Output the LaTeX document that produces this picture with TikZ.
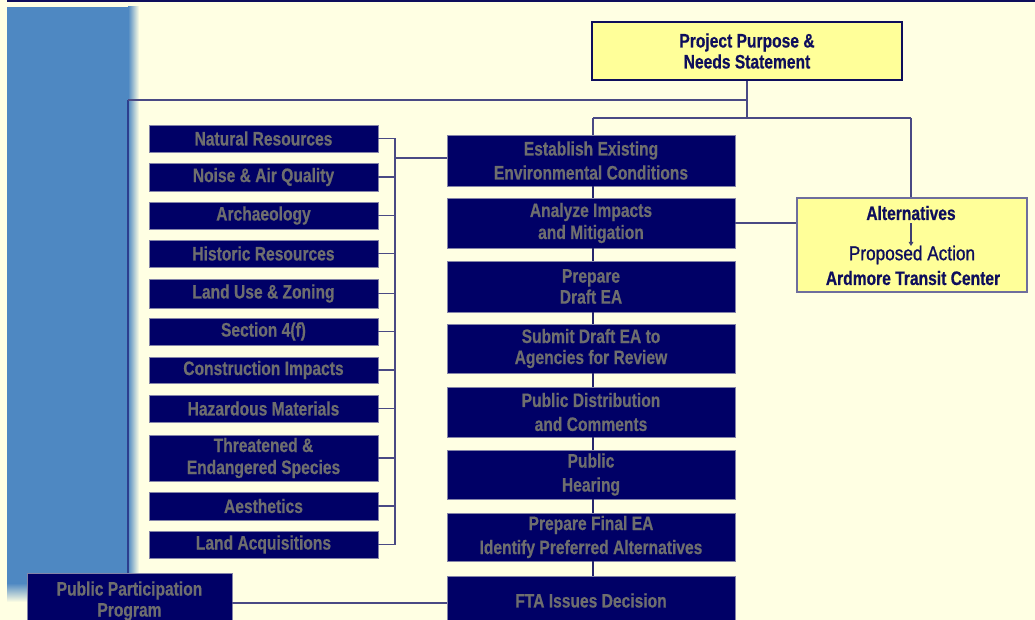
\documentclass[tikz,border=0pt]{standalone}
\usepackage{fontspec}
\setmainfont{Liberation Sans}[FakeStretch=0.80, BoldFeatures={FakeBold=0.5}]
\newfontfamily\propfont{Liberation Sans}[FakeStretch=0.86, FakeBold=1]
\usetikzlibrary{arrows.meta}
\definecolor{bg}{HTML}{FFFFE3}
\definecolor{barblue}{HTML}{4E88C2}
\definecolor{barline}{HTML}{2C3E8E}
\definecolor{navybox}{HTML}{000066}
\definecolor{boxedge}{HTML}{8484A8}
\definecolor{graytxt}{HTML}{6E6E6E}
\definecolor{conn}{HTML}{4A4A84}
\definecolor{ylw}{HTML}{FFFF99}
\definecolor{navytxt}{HTML}{0E0E5C}
\tikzset{
  darkbox/.style={rectangle, fill=navybox, draw=boxedge, line width=0.5pt, text=graytxt,
    font=\bfseries\fontsize{19.5}{21}\selectfont, align=center, inner sep=0pt},
  leftbox/.style={darkbox, minimum width=229pt, minimum height=27pt},
  midbox/.style={darkbox, minimum width=288pt, minimum height=50pt},
  wide/.style={font=\bfseries\fontsize{19.5}{24}\selectfont},
  ybox/.style={rectangle, fill=ylw, draw=navytxt, line width=1.4pt, inner sep=0pt,
    text=navytxt, font=\bfseries\fontsize{19.5}{21}\selectfont, align=center},
  ytext/.style={text=navytxt, inner sep=0pt, font=\bfseries\fontsize{19.5}{21}\selectfont},
  conline/.style={draw=conn, line width=1.6pt},
}
\begin{document}
\begin{tikzpicture}[x=1pt,y=-1pt]
\useasboundingbox (0,0) rectangle (1035,620);
\clip (0,0) rectangle (1035,620);
\fill[bg] (0,0) rectangle (1035,620);
% top rule
\draw[navytxt, line width=2.2pt] (7,1.2) -- (1035,1.2);
% blue side bar
\fill[barblue] (7,7) rectangle (128,583);
\shade[left color=barblue, right color=bg] (128,7) rectangle (139,583);
\shade[top color=barblue, bottom color=bg] (7,583) rectangle (128,602);
\shade[inner color=barblue!50!bg, outer color=bg] (128,583) rectangle (139,602);
\draw[barline, line width=2.4pt] (128,100) -- (128,573);

% top boxes
\node[ybox, minimum width=310pt, minimum height=58pt] (pp) at (747,51)
  {Project Purpose \&\\Needs Statement};
\node[ybox, draw=conn!80, minimum width=230pt, minimum height=94pt] (alt) at (912,245) {};
\node[ytext] (altt) at (911,213) {Alternatives};
\node[ytext, font=\propfont\fontsize{20}{22}\selectfont] (prop) at (912,255) {Proposed Action};
\node[ytext] (ard) at (913,278) {Ardmore Transit Center};

% middle column
\node[midbox, wide, minimum height=51pt] (est) at (591,160.5) {Establish Existing\\Environmental Conditions};
\node[midbox, font=\bfseries\fontsize{19.5}{22}\selectfont] (ana) at (591,223) {Analyze Impacts\\and Mitigation};
\node[midbox, minimum height=51pt] (draft) at (591,286.5) {Prepare\\Draft EA};
\node[midbox, minimum height=49pt] (sub) at (591,348.5) {Submit Draft EA to\\Agencies for Review};
\node[midbox, wide] (dist) at (591,412) {Public Distribution\\and Comments};
\node[midbox, wide, minimum height=49pt] (hear) at (591,474.5) {Public\\Hearing};
\node[midbox, wide, minimum height=48pt] (final) at (591,537) {Prepare Final EA\\Identify Preferred Alternatives};
\node[midbox, minimum height=49pt] (fta) at (591,600.5) {FTA Issues Decision};

% left column
\node[leftbox] (nat) at (263.5,138.5) {Natural Resources};
\node[leftbox, minimum height=28pt] (noise) at (263.5,177) {Noise \& Air Quality};
\node[leftbox] (arch) at (263.5,215.5) {Archaeology};
\node[leftbox] (hist) at (263.5,253.5) {Historic Resources};
\node[leftbox, minimum height=29pt] (land) at (263.5,293.5) {Land Use \& Zoning};
\node[leftbox] (sec) at (263.5,331.5) {Section 4(f)};
\node[leftbox, minimum height=26pt] (cons) at (263.5,370) {Construction Impacts};
\node[leftbox] (haz) at (263.5,408.5) {Hazardous Materials};
\node[leftbox, minimum height=46pt, font=\bfseries\fontsize{19.5}{22}\selectfont] (thr) at (263.5,458) {Threatened \&\\Endangered Species};
\node[leftbox, minimum height=28pt] (aes) at (263.5,506) {Aesthetics};
\node[leftbox] (acq) at (263.5,544.5) {Land Acquisitions};

% public participation
\node[darkbox, minimum width=205pt, minimum height=56pt] (ppp) at (129.5,601) {Public Participation\\Program};

% connectors: top
\coordinate (j1) at (747,100);
\coordinate (j2) at (747,118);
\coordinate (lft) at (128,100);
\coordinate (cl) at (593,118);
\coordinate (cr) at (911,118);
\draw[conline] (pp.south) -- (j2);
\draw[conline] (j1) -- (lft);
\draw[conline] (cl) -- (cr);
\draw[conline] (cl) -- (cl |- est.north);
\draw[conline] (cr) -- (cr |- alt.north);
\draw[conline] (ana.east) -- (ana.east -| alt.west);
\draw[draw=conn!85!black, line width=1.6pt, -{Triangle[length=4pt,width=4.5pt]}] (altt.south -| 911,0) ++(0,3) -- (911,246);

% middle chain
\foreach \a/\b in {est/ana, ana/draft, draft/sub, sub/dist, dist/hear, hear/final, final/fta}{
  \draw[conline, draw=navytxt!90] ([xshift=2pt]\a.south) -- ([xshift=2pt]\b.north);
}

% left bracket
\coordinate (bt) at (395,138.5);
\coordinate (bb) at (395,544.5);
\coordinate (br) at (395,158);
\draw[conline] (bt) -- (bb);
\foreach \n in {nat, noise, arch, hist, land, sec, cons, haz, thr, aes, acq}{
  \draw[conline] (\n.east) -- (\n.east -| bt);
}
\draw[conline] (br) -- (br -| est.west);

% public participation link
\coordinate (pl) at (232,603);
\draw[conline] (pl) -- (pl -| fta.west);
\end{tikzpicture}
\end{document}
